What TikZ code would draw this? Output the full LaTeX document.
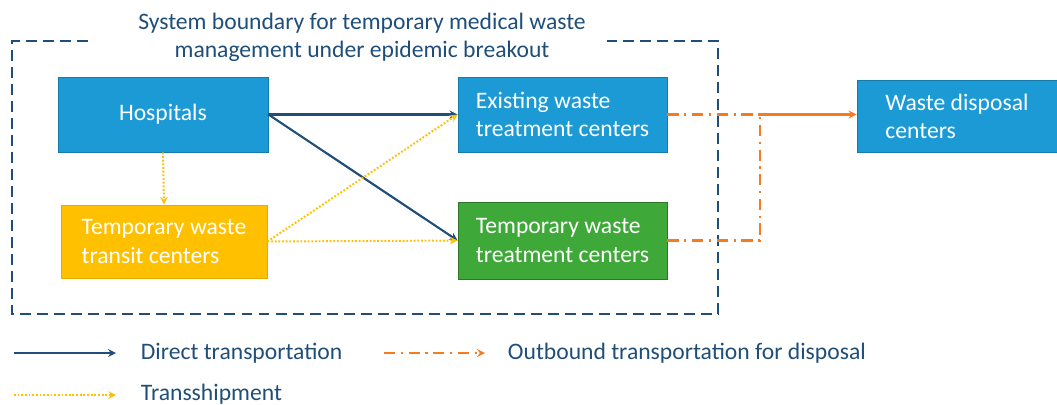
\documentclass[tikz,border=0pt]{standalone}
\usepackage{fontspec}
\setmainfont{Carlito}
\usepackage{tikz}
\usetikzlibrary{arrows,positioning}
\definecolor{wmblue}{RGB}{27,154,214}
\definecolor{wmnavy}{RGB}{31,78,121}
\definecolor{wmorange}{RGB}{244,123,32}
\definecolor{wmyellow}{RGB}{255,192,0}
\definecolor{wmgreen}{RGB}{62,168,56}
\tikzstyle{facility} = [rectangle, minimum width=5.225cm, minimum height=1.875cm, align=left, text=white, font=\fontsize{16.8}{20}\selectfont, draw=wmblue!80!black, fill=wmblue, line width=0.6pt]
\tikzstyle{direct} = [line width=1.5pt,->,>=stealth,color=wmnavy]
\tikzstyle{transship} = [line width=1.4pt,->,>=stealth,color=wmyellow,dash pattern=on 1.3pt off 1.3pt]
\tikzstyle{outbound} = [line width=1.5pt,->,>=stealth,color=wmorange,dash pattern=on 8pt off 4pt on 1.5pt off 4pt]
\tikzstyle{boundary} = [line width=1.5pt,color=wmnavy,dash pattern=on 7.8pt off 4.3pt]
\tikzstyle{legendtext} = [anchor=west, text=wmnavy, font=\fontsize{16.8}{20}\selectfont]

\begin{document}
\begin{tikzpicture}[x=0.025cm, y=-0.025cm]
\useasboundingbox (0,0) rectangle (1057,404);
% System boundary
\draw[boundary] (88,41) -| (12,314) -| (718,41) -- (607,41);
\node (boundarytitle) [align=center, text=wmnavy, font=\fontsize{16.8}{20}\selectfont] at (362,37) {System boundary for temporary medical waste\\management under epidemic breakout};

% Facilities
\node (hospitals) [facility, minimum width=5.25cm] at (163,114.5) {Hospitals};
\node (transit) [facility, minimum width=5.15cm, minimum height=1.825cm, fill=wmyellow, draw=wmyellow!90!black] at (164,241.5) {Temporary waste\\transit centers};
\node (existing) [facility] at (562.5,114.5) {Existing waste\\treatment centers};
\node (temptreat) [facility, minimum height=1.925cm, fill=wmgreen, draw=wmgreen!70!black] at (562.5,240.5) {Temporary waste\\treatment centers};
\node (disposal) [facility, minimum width=5cm, minimum height=1.8cm] at (957,116) {Waste disposal\\centers};

% Flows
\draw[direct] (hospitals.east) -- (existing.west);
\draw[direct] (hospitals.east) -- (temptreat.west);
\draw[transship] (hospitals.south) -- (transit.north);
\draw[transship] (transit.east) -- (existing.west);
\draw[transship] (transit.east) -- (temptreat.west);
\coordinate (merge) at (760,114.5);
\draw[outbound,-] (existing.east) -- (merge);
\draw[outbound,-] (temptreat.east) -| (merge);
\draw[outbound,solid] (merge) -- (merge -| disposal.west);

% Legend
\coordinate (directA) at (14,353);
\coordinate (directB) at (116,353);
\coordinate (outboundA) at (384,353);
\coordinate (outboundB) at (485,353);
\coordinate (transshipA) at (14,395);
\coordinate (transshipB) at (116,395);
\draw[direct] (directA) -- (directB);
\draw[outbound] (outboundA) -- (outboundB);
\draw[transship] (transshipA) -- (transshipB);
\node (directlabel) [legendtext] at (136,353) {Direct transportation};
\node (outboundlabel) [legendtext] at (503,353) {Outbound transportation for disposal};
\node (transshiplabel) [legendtext] at (136,394) {Transshipment};
\end{tikzpicture}
\end{document}
